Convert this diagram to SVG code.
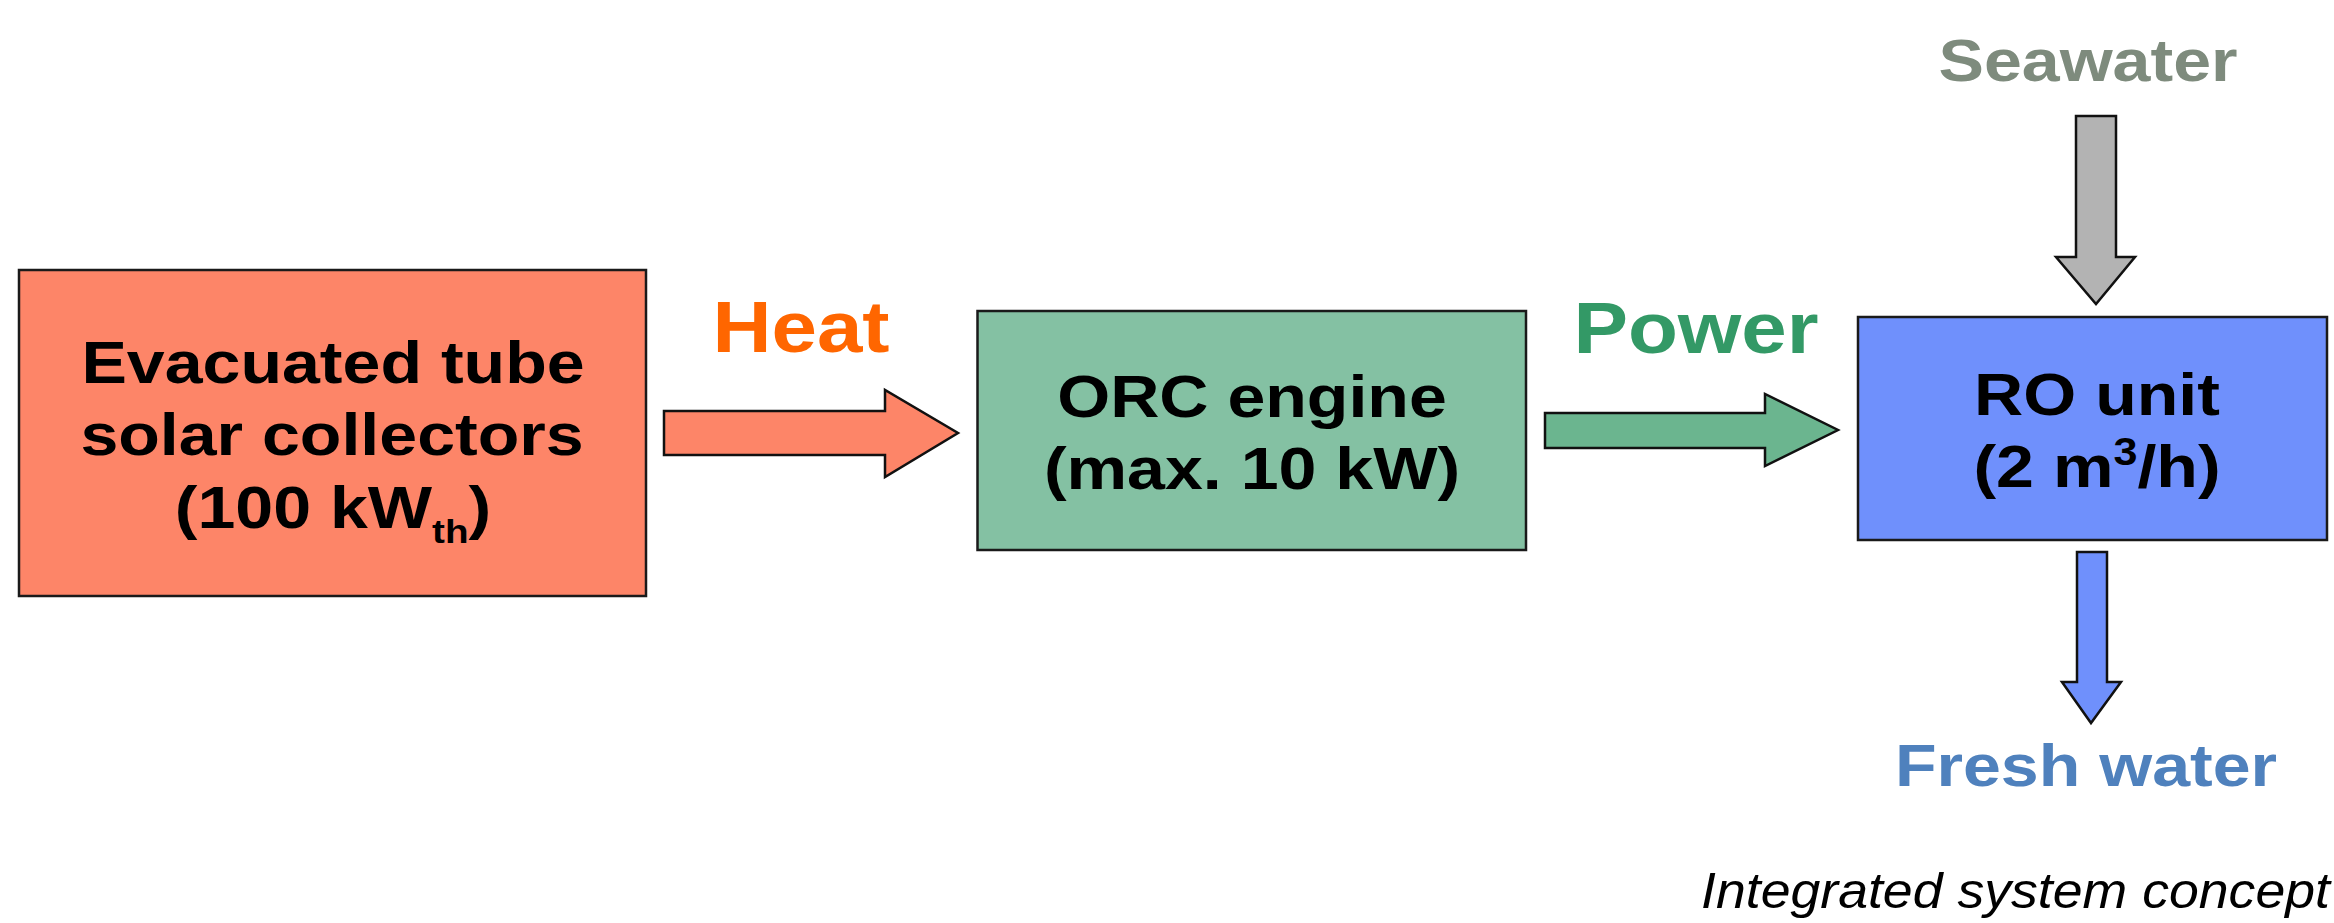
<svg xmlns="http://www.w3.org/2000/svg" width="2334" height="923" viewBox="0 0 2334 923">
<style>
.box{stroke:#1a1a1a;stroke-width:2.5}
.arr{stroke:#111;stroke-width:2.5;stroke-linejoin:miter}
.lbl{font-family:"Liberation Sans",Arial,sans-serif;font-weight:bold;font-size:60px;fill:#000;text-anchor:middle}
.flow{font-family:"Liberation Sans",Arial,sans-serif;font-weight:bold;text-anchor:middle}
.cap{font-family:"Liberation Sans",Arial,sans-serif;font-style:italic;font-size:50px;fill:#000}
</style>
<rect width="2334" height="923" fill="#ffffff"/>
<g id="connectors">
  <polygon id="heat-arrow" class="arr" fill="#fd8568" points="664,411 885,411 885,390 958,433 885,477 885,455 664,455"/>
  <polygon id="power-arrow" class="arr" fill="#6bb58f" points="1545,413 1765,413 1765,394 1838,430 1765,466 1765,448 1545,448"/>
  <polygon id="seawater-arrow" class="arr" fill="#b3b3b3" points="2076,116 2116,116 2116,257 2135,257 2096,304 2056,257 2076,257"/>
  <polygon id="freshwater-arrow" class="arr" fill="#6f90fc" points="2077,552 2107,552 2107,682 2121,682 2091,723 2062,682 2077,682"/>
</g>
<g id="solar">
  <rect class="box" x="19" y="270" width="627" height="326" fill="#fd8568"/>
  <text class="lbl" transform="translate(333 0) scale(1.135 1)" x="0" y="383">Evacuated tube</text>
  <text class="lbl" transform="translate(332 0) scale(1.135 1)" x="0" y="455">solar collectors</text>
  <text class="lbl" transform="translate(333 0) scale(1.135 1)" x="0" y="528">(100 kW<tspan font-size="34" dy="15">th</tspan><tspan dy="-15">)</tspan></text>
</g>
<g id="orc">
  <rect class="box" x="977.5" y="311" width="548.5" height="239" fill="#84c1a3"/>
  <text class="lbl" transform="translate(1252 0) scale(1.135 1)" x="0" y="417">ORC engine</text>
  <text class="lbl" transform="translate(1252 0) scale(1.135 1)" x="0" y="489">(max. 10 kW)</text>
</g>
<g id="ro">
  <rect class="box" x="1858" y="317" width="469" height="223" fill="#6f90fc"/>
  <text class="lbl" transform="translate(2097 0) scale(1.135 1)" x="0" y="415">RO unit</text>
  <text class="lbl" transform="translate(2097 0) scale(1.135 1)" x="0" y="487">(2 m<tspan font-size="38" dy="-22">3</tspan><tspan dy="22">/h)</tspan></text>
</g>
<g id="labels">
  <text class="flow" transform="translate(801 0) scale(1.135 1)" x="0" y="352" font-size="72" fill="#ff6600">Heat</text>
  <text class="flow" transform="translate(1696 0) scale(1.135 1)" x="0" y="353" font-size="72" fill="#339966">Power</text>
  <text class="flow" transform="translate(2088 0) scale(1.135 1)" x="0" y="81" font-size="60" fill="#7e8b7d">Seawater</text>
  <text class="flow" transform="translate(2086 0) scale(1.135 1)" x="0" y="786" font-size="60" fill="#4f81bd">Fresh water</text>
  <text class="cap" x="1701" y="908" textLength="629" lengthAdjust="spacingAndGlyphs">Integrated system concept</text>
</g>
</svg>
